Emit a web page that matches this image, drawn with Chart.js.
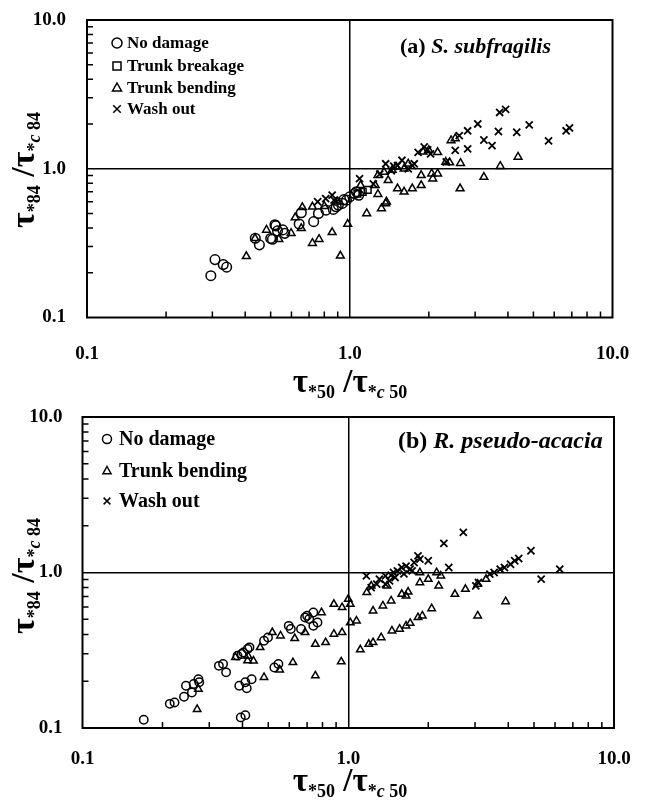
<!DOCTYPE html>
<html>
<head>
<meta charset="utf-8">
<script src="https://cdn.jsdelivr.net/npm/chart.js@4.4.1/dist/chart.umd.min.js"></script>
<style>
  body { margin: 0; background: #fff; }
  canvas { display: block; }
</style>
</head>
<body>
<canvas id="chartA" width="645" height="400"></canvas>
<canvas id="chartB" width="645" height="402"></canvas>
<script>
// axis ticks (both axes, both panels)
const tickValues = [0.1, 1, 10];
const tickLabels = ['0.1', '1.0', '10.0'];
const minorSteps = [2, 3, 4, 5, 6, 7, 8, 9];

// (a) S. subfragilis
const aNoDamageX = [0.296, 0.307, 0.330, 0.340, 0.437, 0.453, 0.508, 0.523, 0.531, 0.556, 0.566, 0.642, 0.654, 0.729, 0.812, 0.866, 0.888, 0.937, 0.972, 1.00, 1.044, 1.082, 0.500, 0.519, 0.760, 0.905, 1.06, 0.95];
const aNoDamageY = [0.191, 0.245, 0.227, 0.218, 0.341, 0.308, 0.336, 0.413, 0.382, 0.388, 0.368, 0.425, 0.506, 0.441, 0.527, 0.533, 0.555, 0.585, 0.615, 0.647, 0.681, 0.664, 0.340, 0.420, 0.500, 0.570, 0.700, 0.620];
const aBreakageX = [1.07, 1.12, 1.17];
const aBreakageY = [0.68, 0.70, 0.72];
const aBendingX = [0.404, 0.436, 0.482, 0.537, 0.598, 0.654, 0.721, 0.764, 0.721, 0.857, 0.921, 0.982, 1.10, 1.16, 1.25, 1.28, 1.28, 1.32, 1.37, 1.40, 1.52, 1.61, 1.61, 1.73, 1.87, 1.87, 2.05, 2.07, 2.16, 2.16, 2.00, 2.32, 2.43, 2.64, 2.63, 3.24, 3.74, 4.37, 2.52, 1.50, 1.67, 0.62, 0.66, 0.80, 0.90, 1.35, 1.45, 1.90, 2.40, 1.38];
const aBendingY = [0.258, 0.341, 0.388, 0.336, 0.369, 0.398, 0.316, 0.336, 0.555, 0.374, 0.260, 0.425, 0.774, 0.501, 0.774, 0.674, 0.903, 0.541, 0.585, 0.836, 0.736, 0.700, 1.00, 0.736, 0.774, 0.903, 0.926, 0.858, 0.926, 1.29, 1.33, 1.11, 1.55, 1.09, 0.736, 0.880, 1.04, 1.20, 1.60, 1.03, 1.08, 0.47, 0.55, 0.56, 0.60, 0.95, 0.98, 1.30, 1.10, 0.60];
const aWashX = [0.755, 0.81, 0.857, 0.872, 1.09, 1.23, 1.37, 1.44, 1.52, 1.58, 1.67, 1.76, 1.82, 1.92, 1.98, 2.03, 2.52, 2.81, 2.81, 2.61, 3.07, 3.24, 3.48, 3.68, 3.72, 3.92, 4.32, 4.82, 5.71, 6.66, 6.86, 2.33, 1.73, 1.47, 1.30];
const aWashY = [0.60, 0.63, 0.664, 0.615, 0.858, 0.79, 1.08, 0.97, 1.05, 1.14, 1.00, 1.08, 1.29, 1.40, 1.34, 1.26, 1.33, 1.36, 1.80, 1.67, 2.00, 1.56, 1.43, 1.78, 2.39, 2.51, 1.76, 1.97, 1.54, 1.80, 1.88, 1.11, 1.05, 1.04, 0.92];

// (b) R. pseudo-acacia
const bNoDamageX = [0.170, 0.213, 0.222, 0.241, 0.245, 0.258, 0.262, 0.273, 0.275, 0.326, 0.338, 0.347, 0.383, 0.397, 0.403, 0.418, 0.425, 0.389, 0.410, 0.415, 0.433, 0.394, 0.410, 0.482, 0.499, 0.527, 0.546, 0.597, 0.608, 0.688, 0.700, 0.739, 0.713, 0.766, 0.664, 0.739];
const bNoDamageY = [0.113, 0.143, 0.146, 0.159, 0.187, 0.169, 0.192, 0.206, 0.197, 0.251, 0.258, 0.228, 0.292, 0.299, 0.306, 0.322, 0.330, 0.187, 0.197, 0.180, 0.206, 0.117, 0.121, 0.364, 0.382, 0.245, 0.258, 0.454, 0.433, 0.514, 0.527, 0.553, 0.502, 0.477, 0.433, 0.454];
const bBendingX = [0.270, 0.273, 0.418, 0.482, 0.552, 0.619, 0.752, 0.941, 0.752, 0.822, 0.883, 0.948, 1.018, 1.074, 1.11, 1.195, 1.24, 1.33, 1.46, 1.56, 1.65, 1.71, 1.83, 1.90, 2.06, 3.07, 3.91, 2.52, 2.76, 3.07, 3.30, 1.24, 1.35, 1.45, 1.59, 1.68, 1.86, 2.00, 2.19, 2.23, 2.15, 0.376, 0.466, 0.518, 0.556, 0.629, 0.688, 0.793, 0.883, 0.948, 1.00, 1.018, 1.174, 1.22, 1.40, 1.65, 1.86, 0.42, 0.44];
const bBendingY = [0.132, 0.178, 0.271, 0.212, 0.237, 0.264, 0.217, 0.267, 0.346, 0.355, 0.402, 0.412, 0.477, 0.489, 0.319, 0.346, 0.355, 0.382, 0.422, 0.433, 0.454, 0.472, 0.514, 0.527, 0.587, 0.527, 0.651, 0.726, 0.782, 0.842, 0.906, 0.567, 0.611, 0.658, 0.726, 0.751, 0.862, 0.906, 0.821, 0.952, 1.00, 0.285, 0.330, 0.412, 0.392, 0.377, 0.412, 0.553, 0.626, 0.596, 0.674, 0.626, 0.744, 0.821, 0.821, 0.708, 1.00, 0.29, 0.27];
const bWashX = [1.17, 1.22, 1.28, 1.31, 1.38, 1.43, 1.48, 1.53, 1.59, 1.65, 1.71, 1.77, 1.83, 1.86, 2.00, 2.29, 2.39, 2.71, 3.02, 3.09, 3.41, 3.54, 3.73, 3.87, 4.08, 4.23, 4.38, 4.87, 5.32, 6.25, 1.38, 1.50, 1.74, 1.62, 1.45];
const bWashY = [0.952, 0.80, 0.842, 0.906, 0.952, 0.884, 1.00, 1.025, 1.077, 1.10, 1.05, 1.16, 1.28, 1.22, 1.19, 1.54, 1.077, 1.81, 0.821, 0.862, 0.976, 1.00, 1.05, 1.077, 1.13, 1.19, 1.23, 1.38, 0.906, 1.05, 0.842, 0.929, 1.025, 0.98, 0.96];

const SERIF = '"Liberation Serif", "Times New Roman", serif';
const W = 645;

const toPoints = (xs, ys) => xs.map((x, i) => ({ x: x, y: ys[i] }));

function series(label, xs, ys, style, r) {
    return {
        label: label,
        data: toPoints(xs, ys),
        pointStyle: style,
        pointRadius: r,
        pointBorderWidth: style === 'crossRot' ? 1.8 : 1.5,
        borderColor: '#000',
        backgroundColor: 'rgba(0,0,0,0)',
        showLine: false
    };
}

// marker shapes for the hand placed legend
function drawMarker(ctx, style, x, y, r) {
    ctx.save();
    ctx.strokeStyle = '#000';
    ctx.lineWidth = 1.5;
    ctx.beginPath();
    if (style === 'circle') {
        ctx.arc(x, y, r, 0, Math.PI * 2);
    } else if (style === 'rect') {
        ctx.rect(x - r * 0.8, y - r * 0.8, r * 1.6, r * 1.6);
    } else if (style === 'triangle') {
        ctx.moveTo(x, y - r);
        ctx.lineTo(x + r * 0.9, y + r * 0.6);
        ctx.lineTo(x - r * 0.9, y + r * 0.6);
        ctx.closePath();
    } else {
        const d = r * 0.75;
        ctx.moveTo(x - d, y - d); ctx.lineTo(x + d, y + d);
        ctx.moveTo(x + d, y - d); ctx.lineTo(x - d, y + d);
    }
    ctx.stroke();
    ctx.restore();
}

// text with sub-parts of different size / offset
function drawRich(ctx, parts, cx, cy) {
    let total = 0;
    parts.forEach(p => { ctx.font = p.f; total += ctx.measureText(p.t).width; });
    let x = cx - total / 2;
    ctx.textBaseline = 'alphabetic';
    ctx.textAlign = 'left';
    ctx.fillStyle = '#000';
    parts.forEach(p => {
        ctx.font = p.f;
        ctx.fillText(p.t, x, cy + (p.dy || 0));
        x += ctx.measureText(p.t).width;
    });
}

function tauParts(num, big, small) {
    const fb = 'bold ' + big + 'px ' + SERIF;
    const fs = 'bold ' + small + 'px ' + SERIF;
    const fi = 'italic bold ' + small + 'px ' + SERIF;
    const dy = Math.round(small * 0.35);
    return [
        { t: '\u03C4', f: fb },
        { t: '*' + num, f: fs, dy: dy },
        { t: ' /', f: fb },
        { t: '\u03C4', f: fb },
        { t: '*', f: fs, dy: dy },
        { t: 'c', f: fi, dy: dy },
        { t: ' ' + num, f: fs, dy: dy }
    ];
}

const decor = {
    id: 'decor',
    afterDraw(chart, args, opts) {
        const ctx = chart.ctx;
        const a = chart.chartArea;
        const xs = chart.scales.x, ys = chart.scales.y;
        ctx.save();
        // frame
        ctx.strokeStyle = '#000';
        ctx.lineWidth = 2;
        ctx.strokeRect(a.left, a.top, a.right - a.left, a.bottom - a.top);
        // inward minor ticks on bottom and left axes
        ctx.lineWidth = 1.5;
        ctx.beginPath();
        [0.1, 1].forEach(dec => {
            minorSteps.forEach(m => {
                const v = dec * m;
                const px = xs.getPixelForValue(v);
                ctx.moveTo(px, a.bottom); ctx.lineTo(px, a.bottom - 6);
                const py = ys.getPixelForValue(v);
                ctx.moveTo(a.left, py); ctx.lineTo(a.left + 6, py);
            });
        });
        ctx.stroke();

        // legend
        ctx.fillStyle = '#000';
        chart.data.datasets.forEach((ds, i) => {
            const y = opts.legendRows[i];
            drawMarker(ctx, ds.pointStyle, opts.legendX, y, opts.legendR);
            ctx.font = 'bold ' + opts.legendFont + 'px ' + SERIF;
            ctx.textBaseline = 'middle';
            ctx.fillText(ds.label, opts.legendTextX, y + 1);
        });

        // panel title
        ctx.textBaseline = 'middle';
        ctx.font = 'bold ' + opts.titleSize + 'px ' + SERIF;
        ctx.fillText(opts.titleTag, opts.titleX, opts.titleY);
        const tw = ctx.measureText(opts.titleTag).width;
        ctx.font = 'italic bold ' + opts.titleSize + 'px ' + SERIF;
        ctx.fillText(opts.titleName, opts.titleX + tw, opts.titleY);

        // axis titles
        drawRich(ctx, tauParts('50', 33, 18), opts.xTitle[0], opts.xTitle[1]);
        ctx.save();
        ctx.translate(opts.yTitle[0], opts.yTitle[1]);
        ctx.rotate(-Math.PI / 2);
        drawRich(ctx, tauParts('84', 34, 18), 0, 0);
        ctx.restore();
        ctx.restore();
    }
};

function axis(p, isX) {
    return {
        type: 'logarithmic',
        min: 0.1,
        max: 10,
        position: isX ? 'bottom' : 'left',
        afterBuildTicks: s => { s.ticks = tickValues.map(v => ({ value: v })); },
        afterFit: s => {
            // fixed axis band, no extra room for overhanging labels
            if (isX) {
                s.height = p.h - p.bottom;
                s.paddingLeft = 0; s.paddingRight = 0;
            } else {
                s.width = p.left;
                s.paddingTop = 0; s.paddingBottom = 0;
            }
        },
        ticks: {
            autoSkip: false,
            maxRotation: 0,
            padding: isX ? p.xPad : p.yPad,
            color: '#000',
            font: { family: SERIF, size: 19, weight: 'bold' },
            callback: (v, i) => tickLabels[i]
        },
        grid: {
            drawTicks: false,
            lineWidth: 1.5,
            color: c => (c.tick && c.tick.value === 1) ? '#000' : 'rgba(0,0,0,0)'
        },
        border: { display: false }
    };
}

function makeChart(id, p, datasets, deco) {
    return new Chart(document.getElementById(id), {
        type: 'scatter',
        data: { datasets: datasets },
        options: {
            responsive: false,
            animation: false,
            events: [],
            layout: { padding: { left: 0, right: W - p.right, top: p.top, bottom: 0 } },
            plugins: {
                legend: { display: false },
                tooltip: { enabled: false },
                decor: deco
            },
            scales: { x: axis(p, true), y: axis(p, false) }
        },
        plugins: [decor]
    });
}

makeChart('chartA',
    { left: 87, right: 612.5, top: 20, bottom: 317.5, h: 400, xPad: 25, yPad: 21 },
    [
        series('No damage', aNoDamageX, aNoDamageY, 'circle', 4.8),
        series('Trunk breakage', aBreakageX, aBreakageY, 'rect', 4.8),
        series('Trunk bending', aBendingX, aBendingY, 'triangle', 4.5),
        series('Wash out', aWashX, aWashY, 'crossRot', 5)
    ],
    {
        legendX: 117, legendTextX: 127, legendR: 5, legendFont: 17,
        legendRows: [43, 66, 88, 109],
        titleTag: '(a) ', titleName: 'S. subfragilis', titleSize: 22, titleX: 400, titleY: 47,
        xTitle: [350, 392], yTitle: [34, 170]
    });

makeChart('chartB',
    { left: 82.5, right: 614, top: 17, bottom: 328, h: 402, xPad: 20, yPad: 20 },
    [
        series('No damage', bNoDamageX, bNoDamageY, 'circle', 4.2),
        series('Trunk bending', bBendingX, bBendingY, 'triangle', 4.3),
        series('Wash out', bWashX, bWashY, 'crossRot', 5)
    ],
    {
        legendX: 107, legendTextX: 119, legendR: 4.5, legendFont: 20,
        legendRows: [39, 71, 101],
        titleTag: '(b) ', titleName: 'R. pseudo-acacia', titleSize: 24, titleX: 398, titleY: 42,
        xTitle: [350, 391], yTitle: [34, 176]
    });
</script>
</body>
</html>
